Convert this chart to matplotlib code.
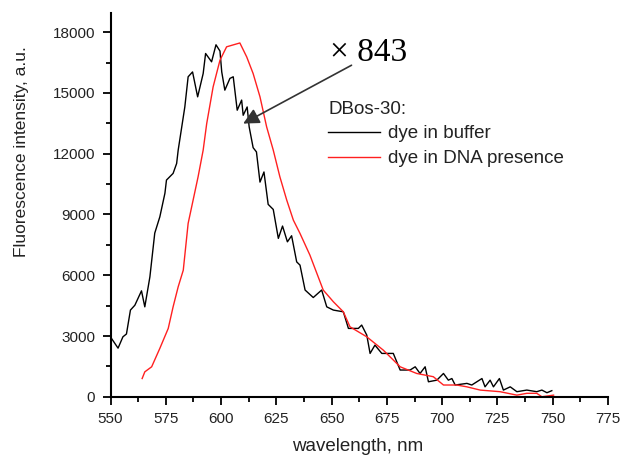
import matplotlib.pyplot as plt
from matplotlib.ticker import MultipleLocator

# data
wl_buffer = [550, 553.4, 555.6, 557.2, 559, 561, 564, 565.5, 567.8, 570, 572.3,
             574.6, 575.3, 578.3, 579.9, 580.6, 583.6, 585.1, 587.1, 589.4,
             591.9, 593, 595.7, 597.7, 599.5, 600.3, 601.7, 604, 605.5, 607.3,
             609.3, 610, 611.8, 612.7, 614.5, 616, 617.6, 619.4, 621.3, 623.6,
             625.9, 627.8, 630, 631.9, 634.2, 635.7, 638, 641.7, 645.5, 647.8,
             650.8, 655.3, 657.6, 662.1, 663.6, 665.9, 667.4, 669.6, 672.7,
             677.9, 681, 685.5, 687.8, 690, 692.3, 693.8, 697.6, 700.6, 702.8,
             704.4, 705.9, 711.2, 713.4, 718, 719.4, 721.7, 723.2, 725.9, 727.7,
             730.8, 733.8, 738.3, 742.8, 745.1, 747.4, 749.6]
int_buffer = [2950, 2400, 2960, 3100, 4280, 4520, 5230, 4440, 5920, 8080, 8885,
              10050, 10700, 11030, 11520, 12180, 14310, 15800, 16040, 14810,
              15960, 16950, 16540, 17380, 17070, 16040, 15140, 15720, 15800,
              14150, 14650, 13900, 14310, 13330, 12300, 12090, 10600, 11100,
              9500, 9250, 7820, 8430, 7650, 7950, 6660, 6500, 5270, 4900, 5270,
              4440, 4280, 4195, 3375, 3375, 3540, 3045, 2140, 2550, 2140, 2140,
              1320, 1320, 1480, 1150, 1480, 740, 820, 1150, 820, 900, 580, 660,
              580, 900, 490, 820, 490, 900, 330, 490, 250, 330, 250, 330, 200,
              300]

wl_dna = [564.3, 565.5, 568.6, 572.3, 576.1, 578.3, 580.6, 582.9, 585.1, 589.6,
          591.9, 593.5, 596.4, 599.5, 602.5, 608.5, 611.6, 614.5, 617.6, 620.6,
          623.6, 626.6, 629.7, 632.7, 635.7, 640.2, 646.2, 650.8, 655.3, 658.3,
          665.9, 673.4, 681, 688.5, 696, 700.6, 706.6, 711.2, 717.2, 726.2,
          733.8, 738.3, 742.8, 745.1, 750.4]
int_dna = [900, 1230, 1480, 2390, 3375, 4440, 5430, 6250, 8560, 10860, 12180,
           13490, 15300, 16620, 17280, 17470, 16780, 15960, 14810, 13330, 12180,
           10860, 9710, 8720, 8065, 6990, 5270, 4690, 4195, 3455, 2960, 2300,
           1480, 1150, 990, 580, 580, 490, 330, 250, 80, 170, 170, 0, 80]

x_ticks = [550, 575, 600, 625, 650, 675, 700, 725, 750, 775]
y_ticks = [0, 3000, 6000, 9000, 12000, 15000, 18000]

plt.rcParams['font.family'] = ['Liberation Sans', 'DejaVu Sans']

fig = plt.figure(figsize=(6.21, 4.55), dpi=100)
ax = fig.add_axes([0.178, 0.128, 0.801, 0.843])

ax.plot(wl_buffer, int_buffer, color='black', lw=1.0, label='dye in buffer')
ax.plot(wl_dna, int_dna, color='#ff2020', lw=1.0, label='dye in DNA presence')

ax.set_xlim(550, 775)
ax.set_ylim(0, 18940)
ax.set_xticks(x_ticks)
ax.set_yticks(y_ticks)
ax.xaxis.set_minor_locator(MultipleLocator(12.5))
ax.yaxis.set_minor_locator(MultipleLocator(1500))
ax.tick_params(which='major', direction='out', length=6, width=1.3, labelsize=11,
               labelcolor='#222222', pad=5)
ax.tick_params(which='minor', direction='out', length=3.5, width=1.3)

for s in ['top', 'right']:
    ax.spines[s].set_visible(False)
for s in ['left', 'bottom']:
    ax.spines[s].set_linewidth(1.5)

ax.set_xlabel('wavelength, nm', fontsize=13.5, color='#222222')
ax.set_ylabel('Fluorescence intensity, a.u.', fontsize=12.5, color='#222222')
ax.xaxis.label.set_va('center')
ax.yaxis.label.set_va('center')
ax.xaxis.set_label_coords(0.4976, -0.130)
ax.yaxis.set_label_coords(-0.179, 0.64)

# annotation: scaling factor of the buffer curve
ax.annotate('', xy=(610, 13490), xytext=(659, 16370),
            arrowprops=dict(arrowstyle='-|>', color='#333333', lw=1.2,
                            mutation_scale=24, shrinkA=0, shrinkB=0))
ax.text(666.5, 17010, '× 843', fontsize=24, family='Liberation Serif',
        ha='center', va='center')

leg = ax.legend(title='DBos-30:', loc='upper left', bbox_to_anchor=(0.419, 0.796),
                frameon=False, fontsize=13.5, title_fontsize=13.5, alignment='left',
                borderpad=0, handlelength=2.76, handletextpad=0.4, labelspacing=0.4)
for t in leg.get_texts():
    t.set_color('#222222')
leg.get_title().set_color('#222222')

fig.savefig('out.png', dpi=100)
